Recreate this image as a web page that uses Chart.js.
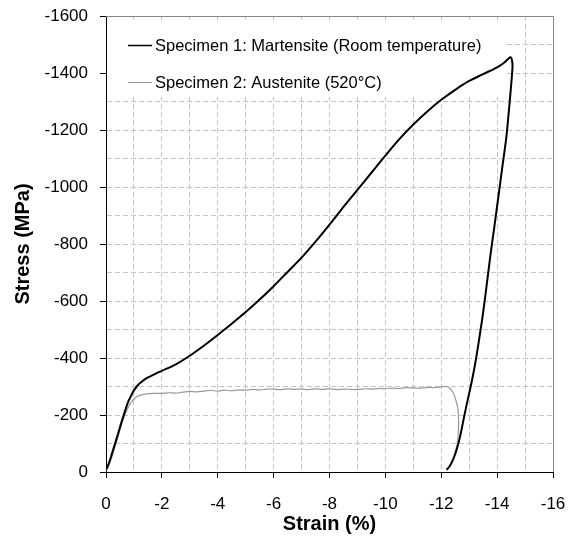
<!DOCTYPE html>
<html>
<head>
<meta charset="utf-8">
<title>Stress-strain curves</title>
<script src="https://cdn.jsdelivr.net/npm/chart.js@4/dist/chart.umd.min.js"></script>
<style>
  html, body { margin: 0; padding: 0; background: #fff; }
  canvas { display: block; }
</style>
</head>
<body>
<canvas id="stressChart" width="571" height="542"></canvas>
<script>
// Specimen 1: martensite, room temperature (loading then unloading)
const strain1 = [
  0, -0.1, -0.2, -0.3, -0.44, -0.53, -0.62, -0.71, -0.8, -0.9, -0.98, -1.1, -1.22, -1.4, -1.57, -1.8,
  -2.0, -2.5, -3.0, -3.5, -4.0, -4.5, -5.0, -5.5, -6.0, -6.5, -7.0, -7.5, -8.0, -8.5,
  -9.0, -9.5, -10.0, -10.5, -11.0, -11.5, -12.0, -12.5, -13.0, -13.5, -14.0, -14.25, -14.4, -14.48,
  -14.53, -14.55, -14.45, -14.33, -14.2, -14.05, -13.9, -13.8, -13.65, -13.5, -13.35, -13.2, -13.05,
  -12.9, -12.78, -12.66, -12.55, -12.43, -12.3, -12.19
];
const stress1 = [
  -8, -30, -60, -92, -137, -167, -195, -223, -248, -268, -283, -300, -312, -326, -335, -346,
  -355, -378, -408, -443, -481, -520, -561, -605, -652, -702, -752, -808, -868, -930,
  -990, -1050, -1110, -1168, -1219, -1265, -1306, -1341, -1372, -1396, -1420, -1436, -1450, -1455,
  -1446, -1420, -1300, -1175, -1080, -970, -860, -790, -675, -560, -462, -372, -298,
  -232, -175, -118, -78, -45, -20, -8
];

// Specimen 2: austenite at 520°C
const strain2 = [
  0, -0.1, -0.2, -0.3, -0.4, -0.5, -0.6, -0.7, -0.8, -0.9, -1.0, -1.1, -1.25, -1.45, -1.7,
  -2.0, -2.25, -2.5, -2.75, -3.0, -3.25, -3.5, -3.75, -4.0, -4.25, -4.5, -4.75, -5.0, -5.25,
  -5.5, -5.75, -6.0, -6.25, -6.5, -6.75, -7.0, -7.25, -7.5, -7.75, -8.0, -8.25, -8.5, -8.75,
  -9.0, -9.25, -9.5, -9.75, -10.0, -10.25, -10.5, -10.75, -11.0, -11.25, -11.5, -11.75, -12.0,
  -12.19, -12.3, -12.43, -12.53, -12.6, -12.62, -12.61, -12.57, -12.49, -12.4, -12.31, -12.19
];
const stress2 = [
  -5, -22, -50, -82, -115, -148, -180, -205, -228, -244, -256, -264, -270, -274, -276,
  -276, -278, -277, -280, -283, -281, -284, -286, -284, -287, -285, -288, -287, -290,
  -288, -291, -291, -289, -292, -290, -291, -289, -292, -290, -292, -289, -291, -290,
  -289, -292, -291, -293, -292, -294, -293, -296, -295, -294, -297, -296, -299,
  -300, -294, -277, -250, -219, -180, -137, -100, -67, -40, -20, -8
];

const seriesLabels = [
  'Specimen 1: Martensite (Room temperature)',
  'Specimen 2: Austenite (520°C)'
];

const xTickMin = -16, xTickMax = 0;
const yTickMin = -1600, yTickMax = 0;

function toPoints(xs, ys) {
  return xs.map((x, i) => ({ x: x, y: ys[i] }));
}

// drop the label overhang padding so the plot area sits where layout.padding says
function noEdgePadding(scale) {
  scale.paddingLeft = 0;
  scale.paddingRight = 0;
  scale.paddingTop = 0;
  scale.paddingBottom = 0;
}

const FONT = '"Liberation Sans", Arial, sans-serif';
const GRID = '#c4c4c4';
const FRAME = '#868686';

// White legend panel over the grid, frame on top/right, legend entries
const legendPanel = {
  id: 'legendPanel',
  beforeDatasetsDraw(chart) {
    const { ctx, chartArea: a } = chart;
    ctx.save();
    ctx.fillStyle = '#fff';
    ctx.fillRect(a.left + 1, a.top + 4, 398, 77);
    ctx.strokeStyle = FRAME;
    ctx.lineWidth = 1;
    ctx.beginPath();
    ctx.moveTo(a.left, a.top + 0.5);
    ctx.lineTo(a.right + 0.5, a.top + 0.5);
    ctx.lineTo(a.right + 0.5, a.bottom);
    ctx.stroke();
    ctx.restore();
  },
  afterDatasetsDraw(chart) {
    const { ctx, chartArea: a } = chart;
    ctx.save();
    ctx.font = '16.5px ' + FONT;
    ctx.textBaseline = 'middle';
    ctx.fillStyle = '#000';
    chart.data.datasets.forEach((ds, i) => {
      const y = a.top + 29.5 + i * 37;
      ctx.strokeStyle = ds.borderColor;
      ctx.lineWidth = i === 0 ? 1.5 : 1;
      ctx.beginPath();
      ctx.moveTo(a.left + 22, y);
      ctx.lineTo(a.left + 46, y);
      ctx.stroke();
      ctx.fillText(ds.label, a.left + 49, y + 1);
    });
    ctx.restore();
  }
};

new Chart(document.getElementById('stressChart'), {
  type: 'scatter',
  data: {
    datasets: [{
      label: seriesLabels[0],
      data: toPoints(strain1, stress1),
      showLine: true,
      borderColor: '#000000',
      borderWidth: 2,
      pointRadius: 0,
      tension: 0.3
    }, {
      label: seriesLabels[1],
      data: toPoints(strain2, stress2),
      showLine: true,
      borderColor: '#999999',
      borderWidth: 1.2,
      pointRadius: 0,
      tension: 0.3
    }]
  },
  options: {
    responsive: false,
    devicePixelRatio: 1,
    animation: false,
    layout: { padding: { left: 0, right: 18, top: 16, bottom: 0 } },
    plugins: {
      legend: { display: false },
      tooltip: { enabled: false }
    },
    scales: {
      x: {
        type: 'linear',
        min: xTickMin,
        max: xTickMax,
        reverse: true,
        afterFit(scale) { scale.height = 70; noEdgePadding(scale); },
        border: { color: '#000', width: 1, dash: [5, 3] },
        grid: {
          color: c => (c.tick && c.tick.value === xTickMin) ? 'transparent' : GRID,
          tickColor: c => (c.tick && c.tick.value % 2 === 0) ? '#000' : 'transparent',
          tickLength: 6
        },
        ticks: {
          stepSize: 1,
          autoSkip: false,
          maxRotation: 0,
          padding: 16,
          color: '#000',
          font: { family: FONT, size: 17 },
          callback: v => (v % 2 === 0 ? String(v === 0 ? 0 : v) : '')
        },
        title: {
          display: true,
          text: 'Strain (%)',
          color: '#000',
          font: { family: FONT, size: 20, weight: 'bold' },
          padding: { top: 0, bottom: 6 }
        }
      },
      y: {
        type: 'linear',
        min: yTickMin,
        max: yTickMax,
        reverse: true,
        afterFit(scale) { scale.width = 106; noEdgePadding(scale); },
        border: { color: '#000', width: 1, dash: [5, 3] },
        grid: {
          color: c => (c.tick && c.tick.value === yTickMin) ? 'transparent' : GRID,
          tickColor: c => (c.tick && c.tick.value % 200 === 0) ? '#000' : 'transparent',
          tickLength: 6
        },
        ticks: {
          stepSize: 100,
          autoSkip: false,
          padding: 12,
          color: '#000',
          font: { family: FONT, size: 17 },
          callback: v => (v % 200 === 0 ? String(v === 0 ? 0 : v) : '')
        },
        title: {
          display: true,
          text: 'Stress (MPa)',
          color: '#000',
          font: { family: FONT, size: 20, weight: 'bold' },
          padding: { top: 11, bottom: 0 }
        }
      }
    }
  },
  plugins: [legendPanel]
});
</script>
</body>
</html>
